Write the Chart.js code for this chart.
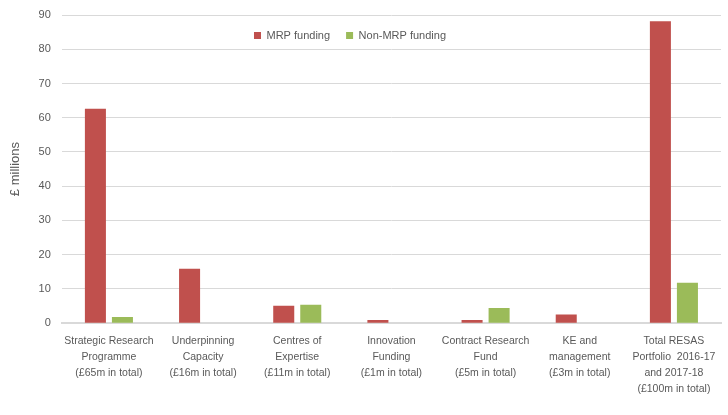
<!DOCTYPE html>
<html>
<head>
<meta charset="utf-8">
<script src="https://cdn.jsdelivr.net/npm/chart.js@4.4.1/dist/chart.umd.min.js"></script>
<style>
html,body{margin:0;padding:0;background:#fff;}
#wrap{width:728px;height:415px;}
</style>
</head>
<body>
<div id="wrap"><canvas id="c" width="728" height="415"></canvas></div>
<script>
const categories = [
  ["Strategic Research", "Programme", "(£65m in total)"],
  ["Underpinning", "Capacity", "(£16m in total)"],
  ["Centres of", "Expertise", "(£11m in total)"],
  ["Innovation", "Funding", "(£1m in total)"],
  ["Contract Research", "Fund", "(£5m in total)"],
  ["KE and", "management", "(£3m in total)"],
  ["Total RESAS", "Portfolio  2016-17", "and 2017-18", "(£100m in total)"]
];
const mrpFunding = [62.6, 15.9, 5.1, 0.9, 0.9, 2.5, 88.2];
const nonMrpFunding = [1.8, 0, 5.4, 0, 4.4, 0, 11.8];
const yTicks = [0, 10, 20, 30, 40, 50, 60, 70, 80, 90];

const textColor = '#595959';
const gridColor = '#d9d9d9';

const legendInPlot = {
  id: 'legendInPlot',
  beforeInit(chart) {
    const lg = chart.legend;
    if (!lg) return;
    const origFit = lg.fit;
    lg.fit = function () {
      origFit.call(this);
      this.height = 0;
    };
  },
  afterLayout(chart) {
    const lg = chart.legend;
    if (!lg) return;
    const w = lg.right - lg.left;
    const cx = 350;
    lg.left = cx - w / 2;
    lg.right = cx + w / 2;
    lg.top = chart.chartArea.top - 1;
    lg.bottom = lg.top + 30;
  }
};

new Chart(document.getElementById('c'), {
  type: 'bar',
  data: {
    labels: categories,
    datasets: [
      { label: 'MRP funding', data: mrpFunding, backgroundColor: '#C0504D',
        categoryPercentage: 0.574, barPercentage: 0.778 },
      { label: 'Non-MRP funding', data: nonMrpFunding, backgroundColor: '#9BBB59',
        categoryPercentage: 0.574, barPercentage: 0.778 }
    ]
  },
  options: {
    responsive: false,
    animation: false,
    devicePixelRatio: 1,
    layout: { padding: { left: 0, right: 7, top: 15, bottom: 8 } },
    plugins: {
      legend: {
        position: 'top',
        align: 'center',
        labels: {
          boxWidth: 7, boxHeight: 7, padding: 16,
          color: textColor,
          font: { family: 'Liberation Sans', size: 11 }
        }
      },
      tooltip: { enabled: false }
    },
    scales: {
      x: {
        grid: { display: false, drawTicks: false },
        border: { display: true, color: gridColor, width: 2 },
        ticks: {
          color: textColor, padding: 10, maxRotation: 0, minRotation: 0, autoSkip: false,
          font: { family: 'Liberation Sans', size: 10.5, lineHeight: 1.52 }
        }
      },
      y: {
        min: 0, max: 90,
        afterBuildTicks(scale) { scale.ticks = yTicks.map(v => ({ value: v })); },
        grid: { color: gridColor, drawTicks: true, tickLength: 8, tickColor: 'rgba(0,0,0,0)', lineWidth: 1 },
        border: { display: false },
        ticks: {
          color: textColor, padding: 3, stepSize: 10,
          font: { family: 'Liberation Sans', size: 11 }
        },
        title: {
          display: true, text: '£ millions', color: textColor,
          font: { family: 'Liberation Sans', size: 13 },
          padding: { top: 8, bottom: 12 }
        }
      }
    }
  },
  plugins: [legendInPlot]
});
</script>
</body>
</html>
